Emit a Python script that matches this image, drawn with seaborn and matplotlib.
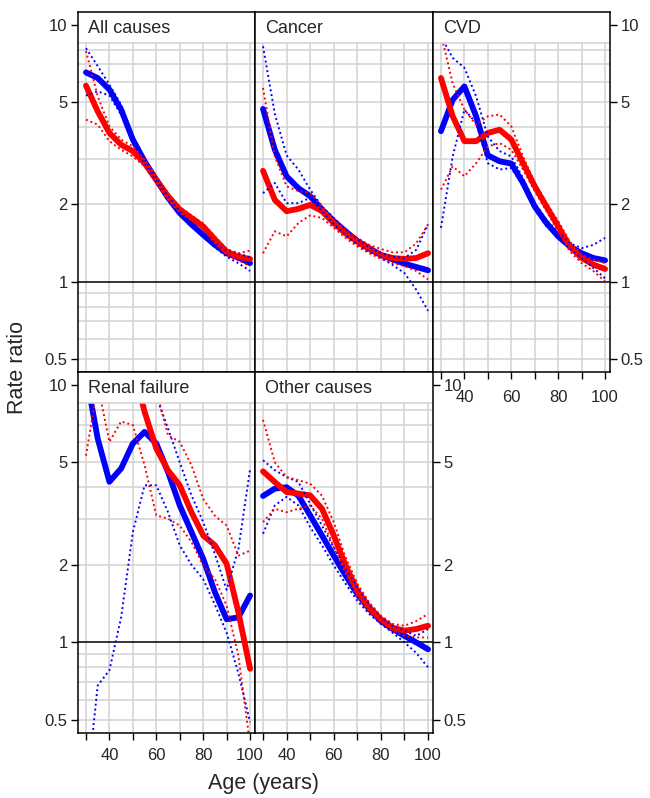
import numpy as np
import pandas as pd
import matplotlib
matplotlib.use('Agg')
import matplotlib.pyplot as plt
from matplotlib.patches import Rectangle
from matplotlib.ticker import NullLocator
import seaborn as sns

nan = np.nan

# age grid (years)
ages = [30, 35, 40, 45, 50, 55, 60, 65, 70, 75, 80, 85, 90, 95, 100]

# All causes
all_blue = [6.52, 6.2, 5.59, 4.67, 3.57, 2.94, 2.49, 2.12, 1.85, 1.67, 1.52, 1.39, 1.29, 1.24, 1.18]
all_blue_hi = [8.1, 6.9, 5.84, 4.88, 3.68, 2.98, 2.53, 2.15, 1.88, 1.69, 1.55, 1.42, 1.32, 1.29, 1.24]
all_blue_lo = [5.3, 5.5, 5.3, 4.46, 3.46, 2.89, 2.45, 2.08, 1.82, 1.64, 1.50, 1.36, 1.25, 1.18, 1.10]
all_red = [5.79, 4.6, 3.79, 3.41, 3.22, 2.89, 2.49, 2.15, 1.91, 1.77, 1.64, 1.46, 1.31, 1.25, 1.225]
all_red_hi = [7.9, 5.26, 4.02, 3.57, 3.36, 2.98, 2.57, 2.21, 1.95, 1.81, 1.68, 1.50, 1.34, 1.29, 1.32]
all_red_lo = [4.27, 4.08, 3.52, 3.26, 3.07, 2.81, 2.42, 2.08, 1.86, 1.73, 1.60, 1.41, 1.27, 1.21, 1.15]

# Cancer
can_blue = [4.70, 3.26, 2.57, 2.31, 2.15, 1.91, 1.72, 1.57, 1.44, 1.35, 1.27, 1.22, 1.175, 1.14, 1.107]
can_blue_hi = [8.24, 4.5, 3.1, 2.73, 2.28, 1.96, 1.77, 1.59, 1.46, 1.36, 1.29, 1.25, 1.236, 1.33, 1.67]
can_blue_lo = [2.21, 2.42, 2.02, 2.02, 2.12, 1.88, 1.67, 1.52, 1.39, 1.31, 1.24, 1.16, 1.08, 0.93, 0.77]
can_red = [2.70, 2.08, 1.88, 1.92, 1.99, 1.88, 1.69, 1.54, 1.43, 1.34, 1.27, 1.236, 1.225, 1.236, 1.29]
can_red_hi = [5.67, 3.07, 2.35, 2.25, 2.21, 1.96, 1.74, 1.59, 1.48, 1.39, 1.34, 1.30, 1.30, 1.41, 1.67]
can_red_lo = [1.29, 1.57, 1.50, 1.69, 1.81, 1.77, 1.62, 1.48, 1.37, 1.29, 1.225, 1.18, 1.15, 1.10, 1.02]

# CVD
cvd_blue = [3.85, 5.1, 5.75, 4.4, 3.1, 2.94, 2.88, 2.42, 1.96, 1.69, 1.50, 1.37, 1.29, 1.236, 1.21]
cvd_blue_hi = [9.0, 7.43, 6.79, 5.26, 3.67, 3.22, 3.07, 2.53, 2.02, 1.74, 1.56, 1.41, 1.35, 1.39, 1.48]
cvd_blue_lo = [1.62, 3.07, 4.67, 4.15, 2.89, 2.73, 2.77, 2.35, 1.91, 1.64, 1.48, 1.34, 1.236, 1.13, 1.03]
cvd_red = [6.2, 4.4, 3.52, 3.52, 3.79, 3.90, 3.57, 2.89, 2.35, 1.96, 1.64, 1.37, 1.236, 1.165, 1.12]
cvd_red_hi = [9.2, 5.9, 4.67, 4.08, 4.4, 4.47, 4.02, 3.07, 2.42, 2.02, 1.72, 1.43, 1.27, 1.22, 1.18]
cvd_red_lo = [2.28, 2.81, 2.57, 2.89, 3.36, 3.46, 3.26, 2.73, 2.25, 1.88, 1.57, 1.31, 1.18, 1.10, 1.0]

# Renal failure
ren_blue = [11.0, 6.18, 4.2, 4.73, 5.91, 6.56, 5.91, 4.58, 3.40, 2.68, 2.11, 1.565, 1.23, 1.25, 1.52]
ren_blue_hi = [nan, nan, nan, nan, nan, nan, 9.0, 6.76, 5.0, 3.72, 2.93, 2.2, 1.6, 2.3, 4.7]
ren_blue_lo = [0.25, 0.68, 0.78, 1.25, 2.68, 4.07, 4.07, 3.2, 2.38, 2.0, 1.76, 1.4, 1.09, 0.76, 0.49]
ren_red = [nan, nan, nan, nan, 12.0, 7.85, 5.65, 4.65, 4.07, 3.2, 2.6, 2.38, 2.02, 1.31, 0.79]
ren_red_hi = [nan, nan, nan, nan, nan, nan, 9.5, 6.36, 6.0, 4.87, 3.6, 3.1, 2.84, 2.17, 2.27]
ren_red_lo = [5.3, 10.0, 6.0, 7.2, 6.97, 4.87, 3.11, 3.02, 2.84, 2.45, 1.99, 1.76, 1.39, 0.89, 0.4]

# Other causes
oth_blue = [3.70, 3.95, 4.0, 3.71, 3.11, 2.60, 2.17, 1.82, 1.54, 1.35, 1.21, 1.127, 1.06, 1.0, 0.94]
oth_blue_hi = [5.09, 4.66, 4.38, 4.19, 3.45, 2.84, 2.34, 1.93, 1.64, 1.41, 1.25, 1.16, 1.11, 1.06, 1.127]
oth_blue_lo = [2.64, 3.40, 3.67, 3.40, 2.80, 2.38, 1.99, 1.69, 1.45, 1.29, 1.18, 1.09, 1.0, 0.91, 0.80]
oth_red = [4.61, 4.19, 3.83, 3.78, 3.72, 3.30, 2.60, 1.99, 1.59, 1.37, 1.23, 1.14, 1.11, 1.127, 1.16]
oth_red_hi = [7.3, 5.0, 4.38, 4.26, 4.13, 3.71, 2.93, 2.14, 1.69, 1.43, 1.27, 1.18, 1.16, 1.21, 1.29]
oth_red_lo = [2.93, 3.30, 3.20, 3.30, 3.40, 3.02, 2.34, 1.85, 1.50, 1.31, 1.20, 1.11, 1.06, 1.045, 1.045]

panel_names = ['All causes', 'Cancer', 'CVD', 'Renal failure', 'Other causes']
y_ticks = [0.5, 1, 2, 5, 10]
y_ticklabels = ['0.5', '1', '2', '5', '10']
x_ticks = [30, 40, 50, 60, 70, 80, 90, 100]
x_ticklabels = ['', '40', '', '60', '', '80', '', '100']
grid_y = [0.5, 0.6, 0.7, 0.8, 0.9, 2, 3, 4, 5, 6, 7, 8, 9]

BLUE = '#0000ff'
RED = '#ff0000'
GRID = '#d2d2d2'

sns.set_style('ticks')
plt.rcParams['font.family'] = ['Liberation Sans', 'DejaVu Sans']

W, H = 650, 798
fig = plt.figure(figsize=(W / 100, H / 100), dpi=100)

# panel boxes in pixels: (left, top, width, height)
boxes = [(78, 12, 177, 360), (255, 12, 178, 360), (433, 12, 177, 360),
         (78, 372, 177, 361), (255, 372, 178, 361)]


def draw_panel(ax, name, blue, blue_lo, blue_hi, red, red_lo, red_hi):
    for v in grid_y:
        ax.axhline(v, color=GRID, lw=1.1, zorder=0)
    for v in x_ticks:
        ax.axvline(v, color=GRID, lw=1.1, zorder=0)
    ax.axhline(1, color='black', lw=1.1, zorder=1)

    for vals, col in ((blue, BLUE), (red, RED)):
        df = pd.DataFrame({'age': ages, 'rr': vals}).dropna()
        sns.lineplot(data=df, x='age', y='rr', color=col, lw=4.2,
                     solid_capstyle='round', solid_joinstyle='round',
                     ax=ax, zorder=3)
    for vals, col in ((blue_lo, BLUE), (blue_hi, BLUE), (red_lo, RED), (red_hi, RED)):
        df = pd.DataFrame({'age': ages, 'rr': vals}).dropna()
        sns.lineplot(data=df, x='age', y='rr', color=col, lw=1.4,
                     linestyle=(0, (1, 1.5)), ax=ax, zorder=3.5)

    ax.set_yscale('log')
    ax.set_ylim(0.445, 11.2)
    ax.set_xlim(26.6, 102.1)
    ax.set_yticks(y_ticks)
    ax.set_yticklabels(y_ticklabels)
    ax.yaxis.set_minor_locator(NullLocator())
    ax.set_xticks(x_ticks)
    ax.set_xticklabels(x_ticklabels)
    ax.set_xlabel('')
    ax.set_ylabel('')

    # white strip holding the panel name
    ax.add_patch(Rectangle((0, 0.914), 1, 0.086, transform=ax.transAxes,
                           facecolor='white', edgecolor='none', zorder=4))
    ax.plot([0, 1], [0.914, 0.914], transform=ax.transAxes, color=GRID,
            lw=1.1, zorder=4.5)
    ax.text(0.055, 0.953, name, transform=ax.transAxes, fontsize=13,
            va='center', ha='left', zorder=6)

    for sp in ax.spines.values():
        sp.set_visible(True)
        sp.set_color('black')
        sp.set_linewidth(1.1)
        sp.set_zorder(7)
    ax.tick_params(axis='both', direction='out', length=5, width=1,
                   labelsize=12, color='black')
    ax.tick_params(axis='y', pad=2.5)
    ax.tick_params(axis='x', pad=6)


series = [
    (all_blue, all_blue_lo, all_blue_hi, all_red, all_red_lo, all_red_hi),
    (can_blue, can_blue_lo, can_blue_hi, can_red, can_red_lo, can_red_hi),
    (cvd_blue, cvd_blue_lo, cvd_blue_hi, cvd_red, cvd_red_lo, cvd_red_hi),
    (ren_blue, ren_blue_lo, ren_blue_hi, ren_red, ren_red_lo, ren_red_hi),
    (oth_blue, oth_blue_lo, oth_blue_hi, oth_red, oth_red_lo, oth_red_hi),
]

axes = []
for i, (box, name, s) in enumerate(zip(boxes, panel_names, series)):
    l, t, w, h = box
    ax = fig.add_axes([l / W, 1 - (t + h) / H, w / W, h / H])
    draw_panel(ax, name, *s)
    axes.append(ax)

# lattice-style alternating axes
axes[0].tick_params(bottom=False, labelbottom=False)
axes[1].tick_params(left=False, labelleft=False, bottom=False, labelbottom=False)
axes[2].yaxis.tick_right()
axes[2].tick_params(axis='x', pad=8)
axes[4].yaxis.tick_right()

fig.text(264 / W, 1 - 784 / H, 'Age (years)', ha='center', va='center', fontsize=15.5)
fig.text(18 / W, 1 - 367 / H, 'Rate ratio', ha='center', va='center',
         rotation=90, fontsize=15.5)

fig.savefig('out.png', dpi=100)
